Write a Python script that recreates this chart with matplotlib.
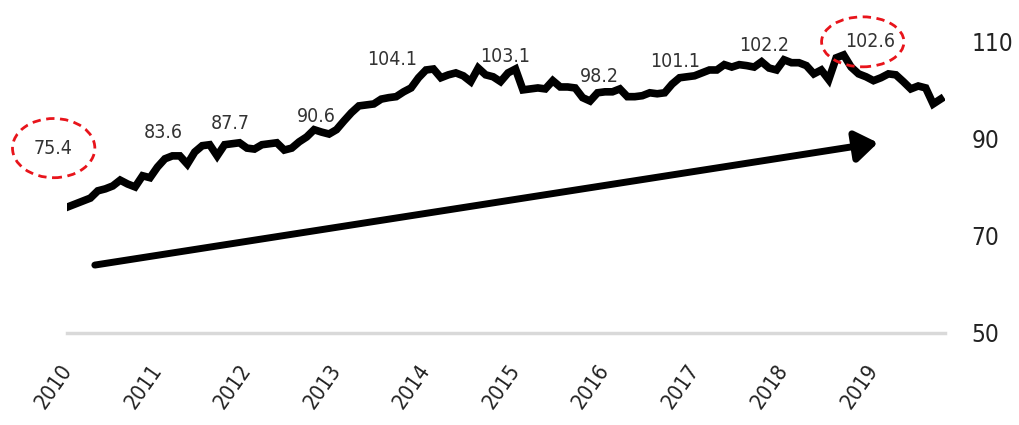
import matplotlib
matplotlib.use('Agg')
import matplotlib.pyplot as plt
from matplotlib.patches import Ellipse

plt.rcParams['font.family'] = ['DejaVu Sans']
plt.rcParams['font.stretch'] = 'condensed'

# monthly index, Jan 2010 .. Oct 2019
values = [
    76.0, 76.6, 77.2, 77.8, 79.3, 79.7, 80.3, 81.5, 80.7, 80.1, 82.4, 82.0,
    84.2, 85.9, 86.5, 86.5, 84.8, 87.3, 88.6, 88.8, 86.5, 88.8, 89.0, 89.2,
    88.1, 87.9, 88.8, 89.0, 89.2, 87.7, 88.1, 89.4, 90.4, 91.9, 91.4, 91.0,
    91.9, 93.7, 95.4, 96.8, 97.0, 97.2, 98.2, 98.5, 98.7, 99.7, 100.5, 102.6,
    104.2, 104.4, 102.6, 103.2, 103.6, 103.0, 101.8, 104.6, 103.2, 102.8, 101.8, 103.6,
    104.4, 100.1, 100.3, 100.5, 100.3, 102.0, 100.7, 100.7, 100.5, 98.5, 97.8, 99.5,
    99.7, 99.7, 100.3, 98.7, 98.7, 98.9, 99.5, 99.3, 99.5, 101.3, 102.6, 102.8,
    103.0, 103.6, 104.2, 104.2, 105.3, 104.8, 105.3, 105.1, 104.8, 105.9, 104.6, 104.2,
    106.3, 105.7, 105.7, 105.1, 103.4, 104.2, 102.2, 106.7, 107.3, 104.8, 103.4, 102.8,
    102.0, 102.6, 103.4, 103.2, 101.8, 100.3, 100.9, 100.5, 97.2, 98.2,
]
months = [2010 + i / 12 for i in range(len(values))]

years = list(range(2010, 2020))
yticks = [50, 70, 90, 110]

# annotated values and where they sit
note_text = ['75.4', '83.6', '87.7', '90.6', '104.1', '103.1', '98.2', '101.1', '102.2', '102.6']
note_x = [2009.83, 2011.06, 2011.81, 2012.78, 2013.62, 2014.88, 2015.94, 2016.78, 2017.78, 2018.96]
note_y = [88.1, 91.4, 93.1, 94.7, 106.3, 106.9, 102.8, 105.9, 109.2, 110.0]

fig = plt.figure(figsize=(10.2, 4.25), dpi=100)
ax = fig.add_axes([67 / 1020, 92 / 425, 878 / 1020, 313 / 425])
ax.set_xlim(2009.989, 2019.799)
ax.set_ylim(50, 114.5)

ax.axhline(50, color='#d9d9d9', lw=2.5, clip_on=False, zorder=1)
ax.plot(months, values, color='black', lw=5.5, solid_joinstyle='miter', zorder=3)

for t, x, y in zip(note_text, note_x, note_y):
    ax.text(x, y, t, ha='center', va='center', fontsize=14, color='#333333', clip_on=False)

for cx, cy, w, h in [(2009.84, 88.1, 0.92, 12.2), (2018.88, 110.0, 0.92, 10.3)]:
    ax.add_patch(Ellipse((cx, cy), w, h, fill=False, ec='#e8141b', lw=2,
                         ls=(0, (3, 2)), clip_on=False, zorder=4))

ax.annotate('', xy=(2019.05, 89.2), xytext=(2010.30, 64.0),
            arrowprops=dict(arrowstyle='-|>,head_length=0.6,head_width=0.42',
                            mutation_scale=22, lw=5, color='black',
                            shrinkA=0, shrinkB=0))

for s in ax.spines.values():
    s.set_visible(False)

ax.set_xticks(years)
ax.set_xticklabels([str(y) for y in years], rotation=55, ha='right', va='center',
                   rotation_mode='anchor', fontsize=15.5, color='#222222')
ax.tick_params(axis='x', length=0, pad=24)

ax.yaxis.tick_right()
ax.set_yticks(yticks)
ax.set_yticklabels([str(v) for v in yticks], fontsize=17.5, color='#222222')
ax.tick_params(axis='y', length=0, pad=19)

fig.savefig('out.png', dpi=100)
